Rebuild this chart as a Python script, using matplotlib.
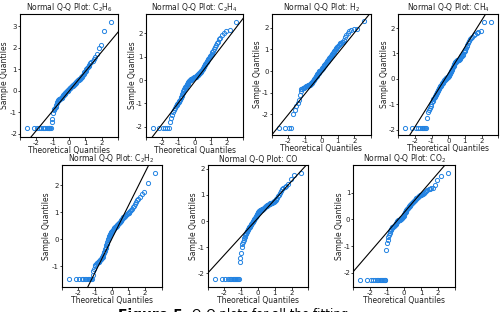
import numpy as np
import matplotlib
matplotlib.use('Agg')
import matplotlib.pyplot as plt
from statistics import NormalDist

plt.rcParams['font.family'] = ['DejaVu Sans']
plt.rcParams['axes.unicode_minus'] = False

#sample quantiles (sorted, standardized), 100 points each
c2h6 = [-1.75]*14 + [
    -1.47, -1.33, -1.02, -0.90, -0.85, -0.80, -0.74, -0.66, -0.58, -0.52,
    -0.47, -0.44, -0.42, -0.40, -0.38, -0.36, -0.34, -0.33, -0.32, -0.30,
    -0.28, -0.25, -0.22, -0.20, -0.17, -0.14, -0.12, -0.09, -0.07, -0.05,
    -0.03, -0.01, 0.01, 0.03, 0.05, 0.07, 0.09, 0.11, 0.13, 0.15,
    0.17, 0.19, 0.21, 0.22, 0.24, 0.26, 0.28, 0.29, 0.31, 0.33,
    0.35, 0.37, 0.39, 0.42, 0.45, 0.47, 0.49, 0.50, 0.52, 0.53,
    0.54, 0.56, 0.58, 0.62, 0.66, 0.70, 0.75, 0.80, 0.85, 0.89,
    0.93, 0.99, 1.06, 1.12, 1.17, 1.22, 1.27, 1.33, 1.40, 1.46,
    1.56, 1.70, 1.98, 2.12, 2.76, 3.18]

c2h4 = [-2.04]*6 + [
    -1.78, -1.62, -1.48, -1.38, -1.30, -1.20, -1.13, -1.07, -1.03, -1.00,
    -0.95, -0.90, -0.84, -0.78, -0.74, -0.69, -0.62, -0.55, -0.49, -0.44,
    -0.40, -0.36, -0.32, -0.28, -0.24, -0.21, -0.18, -0.15, -0.12, -0.09,
    -0.06, -0.03, -0.01, 0.01, 0.02, 0.03, 0.04, 0.05, 0.06, 0.07,
    0.08, 0.09, 0.10, 0.11, 0.12, 0.13, 0.14, 0.15, 0.17, 0.18,
    0.20, 0.21, 0.23, 0.25, 0.27, 0.29, 0.31, 0.33, 0.35, 0.37,
    0.39, 0.42, 0.45, 0.48, 0.52, 0.56, 0.60, 0.64, 0.67, 0.71,
    0.75, 0.79, 0.83, 0.87, 0.91, 0.95, 0.99, 1.03, 1.07, 1.13,
    1.19, 1.26, 1.33, 1.40, 1.48, 1.57, 1.65, 1.74, 1.82, 1.92,
    2.02, 2.08, 2.14, 2.50]

h2 = [-2.62]*4 + [
    -2.00, -1.78, -1.62, -1.47, -1.32, -1.10, -0.92, -0.85, -0.81, -0.78,
    -0.76, -0.74, -0.72, -0.70, -0.69, -0.68, -0.67, -0.66, -0.65, -0.64,
    -0.63, -0.61, -0.59, -0.57, -0.54, -0.51, -0.48, -0.45, -0.41, -0.38,
    -0.34, -0.31, -0.28, -0.25, -0.22, -0.19, -0.16, -0.13, -0.10, -0.07,
    -0.04, -0.02, 0.00, 0.02, 0.04, 0.06, 0.08, 0.11, 0.13, 0.16,
    0.19, 0.21, 0.24, 0.27, 0.29, 0.32, 0.35, 0.38, 0.41, 0.44,
    0.47, 0.50, 0.53, 0.56, 0.59, 0.62, 0.65, 0.68, 0.71, 0.74,
    0.78, 0.81, 0.85, 0.89, 0.93, 0.97, 1.01, 1.05, 1.09, 1.13,
    1.17, 1.21, 1.24, 1.27, 1.29, 1.32, 1.36, 1.45, 1.56, 1.66,
    1.76, 1.84, 1.90, 1.93, 1.94, 2.32]

ch4 = [-1.91]*10 + [
    -1.54, -1.30, -1.20, -1.13, -1.05, -0.97, -0.90, -0.85, -0.80, -0.76,
    -0.71, -0.66, -0.62, -0.58, -0.54, -0.50, -0.46, -0.42, -0.38, -0.35,
    -0.32, -0.29, -0.26, -0.23, -0.20, -0.17, -0.14, -0.12, -0.10, -0.08,
    -0.06, -0.04, -0.02, 0.00, 0.02, 0.03, 0.05, 0.06, 0.07, 0.09,
    0.11, 0.14, 0.17, 0.20, 0.23, 0.26, 0.30, 0.33, 0.37, 0.41,
    0.45, 0.48, 0.52, 0.55, 0.59, 0.62, 0.65, 0.68, 0.70, 0.72,
    0.73, 0.74, 0.75, 0.76, 0.78, 0.80, 0.83, 0.86, 0.89, 0.92,
    0.95, 0.99, 1.04, 1.09, 1.15, 1.22, 1.29, 1.35, 1.42, 1.49,
    1.55, 1.60, 1.66, 1.71, 1.76, 1.82, 1.86, 1.90, 2.25, 2.25]

c2h2 = [-1.47]*12 + [
    -1.30, -1.18, -1.08, -1.00, -0.95, -0.91, -0.88, -0.86, -0.84, -0.82,
    -0.80, -0.78, -0.76, -0.74, -0.72, -0.70, -0.67, -0.64, -0.58, -0.52,
    -0.47, -0.42, -0.37, -0.32, -0.27, -0.22, -0.17, -0.10, -0.04, 0.01,
    0.05, 0.09, 0.13, 0.16, 0.19, 0.22, 0.24, 0.27, 0.29, 0.32,
    0.34, 0.36, 0.39, 0.41, 0.43, 0.44, 0.46, 0.47, 0.49, 0.50,
    0.52, 0.53, 0.55, 0.57, 0.59, 0.61, 0.63, 0.66, 0.69, 0.72,
    0.74, 0.77, 0.79, 0.81, 0.83, 0.84, 0.86, 0.88, 0.90, 0.92,
    0.94, 0.97, 0.99, 1.02, 1.05, 1.09, 1.13, 1.18, 1.23, 1.30,
    1.38, 1.44, 1.50, 1.58, 1.66, 1.76, 2.10, 2.47]

co = [-2.22]*13 + [
    -1.56, -1.43, -1.24, -0.98, -0.88, -0.80, -0.72, -0.66, -0.60, -0.55,
    -0.50, -0.45, -0.41, -0.37, -0.34, -0.30, -0.27, -0.24, -0.21, -0.18,
    -0.15, -0.12, -0.09, -0.06, -0.03, 0.00, 0.03, 0.05, 0.08, 0.10,
    0.13, 0.16, 0.19, 0.22, 0.25, 0.28, 0.31, 0.33, 0.35, 0.37,
    0.38, 0.40, 0.41, 0.42, 0.43, 0.44, 0.45, 0.46, 0.47, 0.48,
    0.50, 0.51, 0.53, 0.54, 0.56, 0.57, 0.59, 0.60, 0.62, 0.63,
    0.65, 0.66, 0.67, 0.68, 0.69, 0.70, 0.70, 0.71, 0.72, 0.74,
    0.76, 0.78, 0.81, 0.85, 0.90, 0.95, 1.00, 1.08, 1.15, 1.21,
    1.25, 1.29, 1.33, 1.42, 1.60, 1.78, 1.83]

co2 = [-2.27]*14 + [
    -1.15, -0.88, -0.78, -0.67, -0.60, -0.52, -0.44, -0.40, -0.36, -0.33,
    -0.30, -0.28, -0.26, -0.24, -0.22, -0.20, -0.18, -0.16, -0.13, -0.11,
    -0.08, -0.06, -0.04, -0.03, -0.02, -0.01, 0.00, 0.01, 0.02, 0.03,
    0.04, 0.06, 0.08, 0.11, 0.14, 0.17, 0.20, 0.23, 0.26, 0.29,
    0.32, 0.35, 0.38, 0.40, 0.42, 0.44, 0.46, 0.48, 0.50, 0.52,
    0.54, 0.56, 0.58, 0.60, 0.62, 0.64, 0.66, 0.68, 0.70, 0.72,
    0.74, 0.76, 0.78, 0.80, 0.82, 0.84, 0.86, 0.87, 0.89, 0.90,
    0.92, 0.94, 0.96, 0.98, 1.00, 1.02, 1.05, 1.09, 1.13, 1.15,
    1.16, 1.17, 1.28, 1.47, 1.62, 1.72]

titles = ['C$_2$H$_6$', 'C$_2$H$_4$', 'H$_2$', 'CH$_4$', 'C$_2$H$_2$', 'CO', 'CO$_2$']
samples = [c2h6, c2h4, h2, ch4, c2h2, co, co2]
#reference line (slope, intercept)
line_slope = [0.915, 0.91, 0.944, 1.044, 1.233, 0.705, 0.736]
line_icpt = [-0.02, -0.08, -0.12, 0.21, 0.01, 0.115, 0.255]
ylims = [(-2.15, 3.57), (-2.43, 2.83), (-2.95, 2.63), (-2.2, 2.55),
         (-1.75, 2.75), (-2.52, 2.15), (-2.52, 2.03)]
yticks = [range(-2, 4), range(-2, 3), range(-2, 3), range(-2, 3),
          range(-1, 3), range(-2, 3), range(-2, 2)]

# axes boxes in pixels: left, top, right, bottom
boxes = [(20, 14, 118, 137), (145.7, 14, 243.3, 136.7), (271.7, 14, 371, 135),
         (398.3, 14, 498.3, 135), (61.7, 165, 161.7, 286.7),
         (207.7, 165, 308.3, 286.7), (353.3, 165, 455, 286.7)]
# distance of the y label centre left of the box, pixels
ylab_off = [15, 13.5, 13.8, 13.8, 15, 13.8, 14]

W, H = 500, 312
blue = '#2383e2'
txt = '#222222'
nd = NormalDist()

fig = plt.figure(figsize=(5, 3.12), dpi=100)
for k in range(7):
    l, t, r, b = boxes[k]
    w, h = r - l, b - t
    ax = fig.add_axes([l/W, 1 - b/H, w/W, h/H])
    y = np.array(samples[k])
    n = len(y)
    z = np.array([nd.inv_cdf((i - 0.5)/n) for i in range(1, n + 1)])
    ax.plot(z, y, 'o', mfc='none', mec=blue, ms=3, mew=0.7)
    xs = np.array([-3.5, 3.5])
    ax.plot(xs, line_slope[k]*xs + line_icpt[k], color='black', lw=0.8)
    ax.set_xlim(-3, 3)
    ax.set_ylim(*ylims[k])
    ax.set_xticks(range(-3, 4))
    ax.set_xticklabels(['', '-2', '-1', '0', '1', '2', ''])
    ax.set_yticks(list(yticks[k]))
    ax.tick_params(labelsize=5, length=1.8, width=0.6, pad=0.3, colors=txt)
    for s in ax.spines.values():
        s.set_linewidth(0.8)
    ax.set_xlabel('Theoretical Quantiles', fontsize=5.5, color=txt, va='center')
    ax.xaxis.set_label_coords(0.5, -13.3/h)
    ax.set_ylabel('Sample Quantiles', fontsize=5.5, color=txt, va='center')
    ax.yaxis.set_label_coords(-ylab_off[k]/w, 0.5)
    ax.set_title('Normal Q-Q Plot: ' + titles[k], fontsize=5.5, pad=2, color=txt)

fig.text(118/W, 1 - 308/H, 'Figure 5.', fontsize=10, fontweight='bold', va='top')
fig.text(192/W, 1 - 308/H, 'Q-Q plots for all the fitting', fontsize=8.5, va='top')

fig.savefig('out.png', dpi=100)
